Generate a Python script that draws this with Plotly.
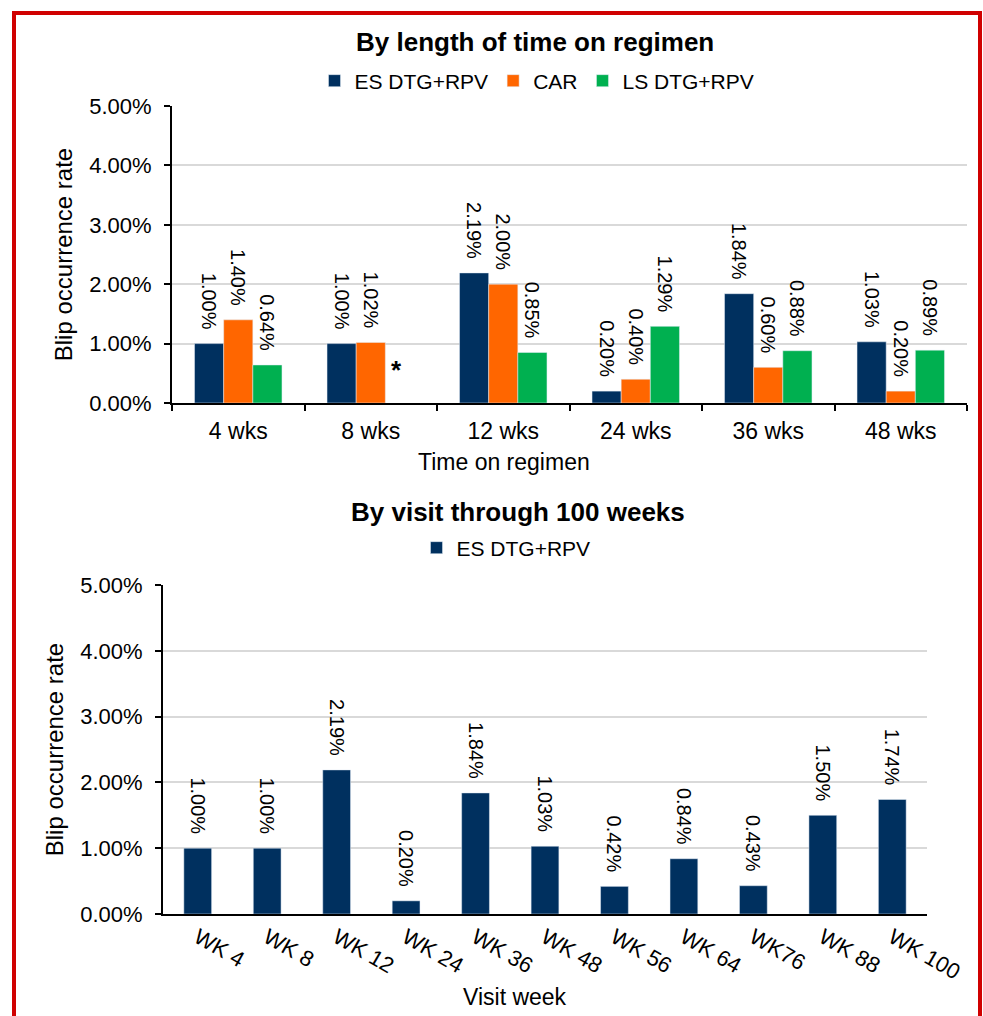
import plotly.graph_objects as go

# ---- data ----
regimen_weeks = ["4 wks", "8 wks", "12 wks", "24 wks", "36 wks", "48 wks"]
es_dtg_rpv = [1.00, 1.00, 2.19, 0.20, 1.84, 1.03]
car = [1.40, 1.02, 2.00, 0.40, 0.60, 0.20]
ls_dtg_rpv = [0.64, None, 0.85, 1.29, 0.88, 0.89]

visit_weeks = ["WK 4", "WK 8", "WK 12", "WK 24", "WK 36", "WK 48",
               "WK 56", "WK 64", "WK76", "WK 88", "WK 100"]
visit_es_dtg_rpv = [1.00, 1.00, 2.19, 0.20, 1.84, 1.03, 0.42, 0.84, 0.43, 1.50, 1.74]

y_ticks = [0, 1, 2, 3, 4, 5]
y_tick_labels = ["0.00%", "1.00%", "2.00%", "3.00%", "4.00%", "5.00%"]

NAVY = "#00305F"
ORANGE = "#FF6600"
GREEN = "#00B050"
FONT = "Arial, Liberation Sans, sans-serif"
W, H = 983, 1016

def px_x(v):
    return v / W

def px_y(v):
    return (H - v) / H

label_tpl = "%{y:.2f}%\u00a0\u00a0"

fig = go.Figure()

for name, vals, color in [("ES DTG+RPV", es_dtg_rpv, NAVY),
                          ("CAR", car, ORANGE),
                          ("LS DTG+RPV", ls_dtg_rpv, GREEN)]:
    fig.add_trace(go.Bar(
        x=regimen_weeks, y=vals, name=name, marker_color=color,
        texttemplate=label_tpl, textposition="outside", textangle=90,
        constraintext="none", cliponaxis=False,
        textfont=dict(size=20, color="black", family=FONT),
        xaxis="x", yaxis="y", legend="legend",
    ))

fig.add_trace(go.Bar(
    x=visit_weeks, y=visit_es_dtg_rpv, name="ES DTG+RPV", marker_color=NAVY,
    width=0.4, texttemplate=label_tpl, textposition="outside", textangle=90,
    constraintext="none", cliponaxis=False,
    textfont=dict(size=20, color="black", family=FONT),
    xaxis="x2", yaxis="y2", legend="legend2",
))

yaxis_common = dict(
    range=[0, 5], tickvals=y_ticks, ticktext=y_tick_labels,
    showgrid=True, gridcolor="#D9D9D9", gridwidth=1.5, zeroline=False,
    showline=True, linecolor="black", linewidth=2,
    ticks="outside", ticklen=6, tickwidth=2, tickcolor="black",
    tickfont=dict(size=22, color="black", family=FONT),
    ticklabelstandoff=8, automargin=False,
    title=dict(text="Blip occurrence rate",
               font=dict(size=24, color="black", family=FONT), standoff=10),
)

fig.update_layout(
    width=W, height=H, margin=dict(l=0, r=0, t=0, b=0, autoexpand=False),
    paper_bgcolor="white", plot_bgcolor="white",
    font=dict(family=FONT, color="black"),
    barmode="group", bargap=0.34, bargroupgap=0,
    xaxis=dict(
        domain=[px_x(172), px_x(967)], anchor="y", automargin=False,
        showline=True, linecolor="black", linewidth=2,
        ticks="outside", tickson="boundaries", ticklen=6, tickwidth=2,
        tickcolor="black", showgrid=False, ticklabelstandoff=6,
        tickfont=dict(size=23, color="black", family=FONT),
    ),
    yaxis=dict(domain=[px_y(403), px_y(106)], anchor="x", **yaxis_common),
    xaxis2=dict(
        domain=[px_x(163), px_x(927)], anchor="y2", automargin=False,
        showline=True, linecolor="black", linewidth=2,
        ticks="", showgrid=False, tickangle=30,
        tickfont=dict(size=22, color="black", family=FONT),
    ),
    yaxis2=dict(domain=[px_y(914), px_y(585)], anchor="x2", **yaxis_common),
    legend=dict(
        orientation="h", x=px_x(537), xanchor="center",
        y=px_y(81), yanchor="middle", bgcolor="rgba(0,0,0,0)",
        font=dict(size=21, color="black", family=FONT),
        itemwidth=30, tracegroupgap=0,
    ),
    legend2=dict(
        orientation="h", x=px_x(506), xanchor="center",
        y=px_y(548), yanchor="middle", bgcolor="rgba(0,0,0,0)",
        font=dict(size=21, color="black", family=FONT),
    ),
    showlegend=True,
)

# panel headings and x-axis titles
for text, cx, cy, size in [
    ("<b>By length of time on regimen</b>", 535, 42, 26),
    ("<b>By visit through 100 weeks</b>", 518, 512, 26),
    ("Time on regimen", 504, 462, 23),
    ("Visit week", 515, 997, 23),
]:
    fig.add_annotation(text=text, xref="paper", yref="paper",
                       x=px_x(cx), y=px_y(cy), xanchor="center", yanchor="middle",
                       showarrow=False,
                       font=dict(size=size, color="black", family=FONT))

# marker for the missing LS DTG+RPV value at 8 weeks
fig.add_annotation(text="<b>*</b>", x="8 wks", y=0.55, xref="x", yref="y",
                   xshift=26, showarrow=False,
                   font=dict(size=26, color="black", family=FONT))

# red frame around the figure
fig.add_shape(type="rect", xref="paper", yref="paper",
              x0=px_x(14), x1=px_x(980), y0=-0.05, y1=px_y(13),
              line=dict(color="#D00000", width=4), fillcolor="rgba(0,0,0,0)")

fig.write_html(
    "out.html",
    config={"responsive": False, "displayModeBar": False},
    post_script="document.body.style.margin='0';document.body.style.overflow='hidden';",
)
